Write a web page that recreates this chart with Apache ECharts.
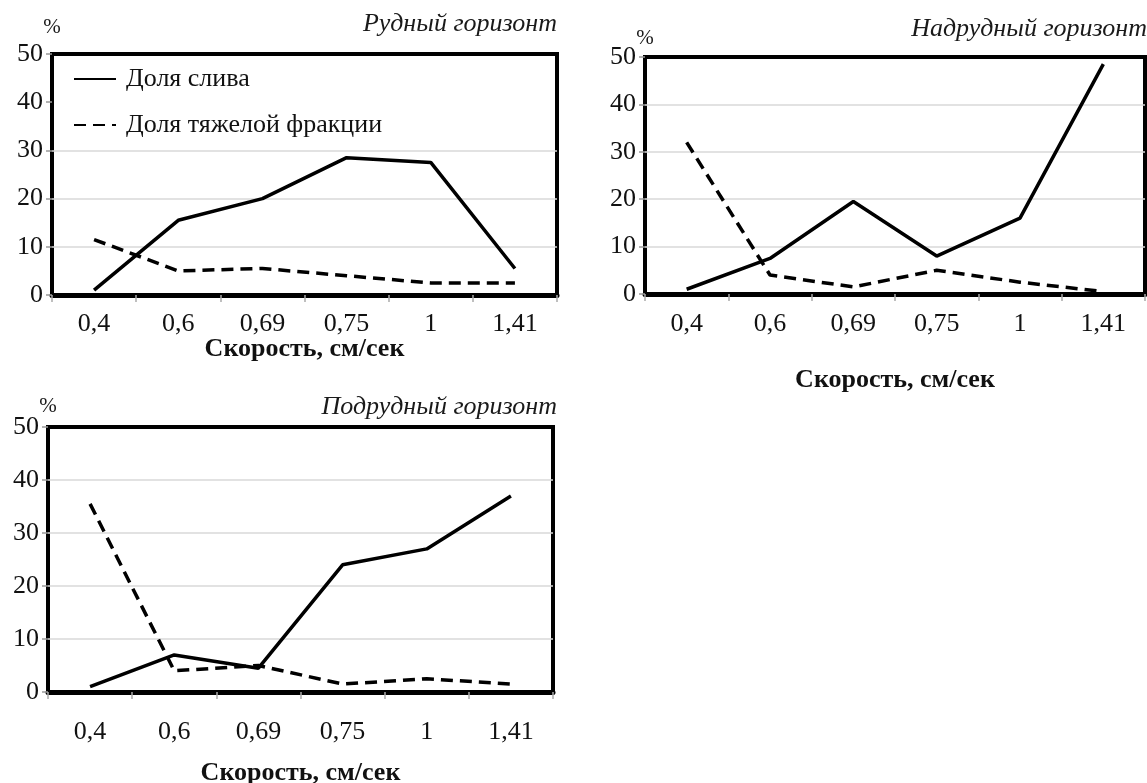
<!DOCTYPE html>
<html>
<head>
<meta charset="utf-8">
<script src="https://cdn.jsdelivr.net/npm/echarts@6/dist/echarts.min.js"></script>
<style>
  html, body { margin: 0; padding: 0; background: #fff; }
  #chart { width: 1147px; height: 783px; }
</style>
</head>
<body>
<div id="chart"></div>
<script>
// Скорость потока, см/сек
const categories = ['0,4', '0,6', '0,69', '0,75', '1', '1,41'];
const yTicks = [0, 10, 20, 30, 40, 50];

// Рудный горизонт
const oreDrain = [1, 15.5, 20, 28.5, 27.5, 5.5];
const oreHeavy = [11.5, 5, 5.5, 4, 2.5, 2.5];

// Надрудный горизонт
const aboveDrain = [1, 7.5, 19.5, 8, 16, 48.5];
const aboveHeavy = [32, 4, 1.5, 5, 2.5, 0.5];

// Подрудный горизонт
const belowDrain = [1, 7, 4.5, 24, 27, 37];
const belowHeavy = [35.5, 4, 5, 1.5, 2.5, 1.5];

const panelTitles = ['Рудный горизонт', 'Надрудный горизонт', 'Подрудный горизонт'];
const seriesNames = ['Доля слива', 'Доля тяжелой фракции'];
const xTitle = 'Скорость, см/сек';

const FONT = 'Liberation Serif, Times New Roman, serif';
const FS = 26;
const GRID = '#d9d9d9';
const NONE = 'rgba(0,0,0,0)';

// split-line colours per tick (0 … 50); the frame covers 0 and 50
const panels = [
  { grid: { left: 52, top: 54, width: 505, height: 241 }, labelMargin: 16, nameGap: 41, pctGap: 16,
    title: { right: 590, top: 11 }, drain: oreDrain, heavy: oreHeavy,
    // the 40 % line sits under the legend and is not drawn
    split: [NONE, GRID, GRID, GRID, NONE, NONE] },
  { grid: { left: 645, top: 57, width: 500, height: 237 }, labelMargin: 17, nameGap: 73, pctGap: 8,
    title: { right: 0, top: 16 }, drain: aboveDrain, heavy: aboveHeavy,
    split: [NONE, GRID, GRID, GRID, GRID, NONE] },
  { grid: { left: 48, top: 427, width: 505, height: 265 }, labelMargin: 27, nameGap: 68, pctGap: 10,
    title: { right: 590, top: 394 }, drain: belowDrain, heavy: belowHeavy,
    split: [NONE, GRID, GRID, GRID, GRID, NONE] }
];

const chart = echarts.init(document.getElementById('chart'), null, { renderer: 'canvas' });

const serifText = (size, extra) => Object.assign({ fontFamily: FONT, fontSize: size, color: '#111' }, extra || {});

const option = {
  backgroundColor: '#fff',
  animation: false,
  textStyle: { fontFamily: FONT, color: '#111' },
  title: panels.map((p, i) => ({
    text: panelTitles[i],
    right: p.title.right,
    top: p.title.top,
    padding: 0,
    textStyle: serifText(FS, { fontStyle: 'italic', fontWeight: 'normal', color: '#1a1a1a' })
  })),
  legend: {
    data: seriesNames,
    orient: 'vertical',
    left: 73,
    top: 66,
    itemWidth: 42,
    itemHeight: 24,
    itemGap: 20,
    padding: 0,
    itemStyle: { opacity: 0 },
    textStyle: serifText(FS, { padding: [0, 0, 0, 5] })
  },
  grid: panels.map(p => Object.assign({
    show: true, borderColor: '#000', borderWidth: 4, backgroundColor: NONE,
    containLabel: false, outerBoundsMode: 'none'
  }, p.grid)),
  xAxis: panels.map((p, i) => ({
    type: 'category',
    gridIndex: i,
    data: categories,
    boundaryGap: true,
    name: xTitle,
    nameLocation: 'middle',
    nameGap: p.nameGap,
    nameMoveOverlap: false,
    nameTextStyle: serifText(FS, { fontWeight: 'bold' }),
    axisLine: { show: true, lineStyle: { color: '#000', width: 5 } },
    axisTick: { show: true, alignWithLabel: false, length: 7, lineStyle: { color: '#aaa', width: 1.5 } },
    axisLabel: serifText(FS, { margin: p.labelMargin }),
    splitLine: { show: false }
  })),
  yAxis: panels.map((p, i) => ({
    type: 'value',
    gridIndex: i,
    min: 0,
    max: 50,
    interval: 10,
    name: '%',
    nameLocation: 'end',
    nameGap: p.pctGap,
    nameMoveOverlap: false,
    nameTextStyle: serifText(21, { color: '#1a1a1a' }),
    axisLine: { show: false },
    axisTick: { show: true, length: 6, lineStyle: { color: '#999', width: 1.5 } },
    axisLabel: serifText(FS, {
      margin: 9,
      formatter: v => (yTicks.indexOf(v) >= 0 ? String(v) : '')
    }),
    splitLine: { show: true, lineStyle: { color: p.split, width: 1.5 } }
  })),
  series: panels.flatMap((p, i) => [
    {
      name: seriesNames[0], type: 'line', xAxisIndex: i, yAxisIndex: i,
      data: p.drain, symbol: 'none', showSymbol: false,
      lineStyle: { color: '#000', width: 3.5, type: 'solid' },
      itemStyle: { color: '#000' }, z: 3
    },
    {
      name: seriesNames[1], type: 'line', xAxisIndex: i, yAxisIndex: i,
      data: p.heavy, symbol: 'none', showSymbol: false,
      lineStyle: { color: '#000', width: 3.5, type: [12, 7] },
      itemStyle: { color: '#000' }, z: 3
    }
  ])
};

chart.setOption(option);
</script>
</body>
</html>
